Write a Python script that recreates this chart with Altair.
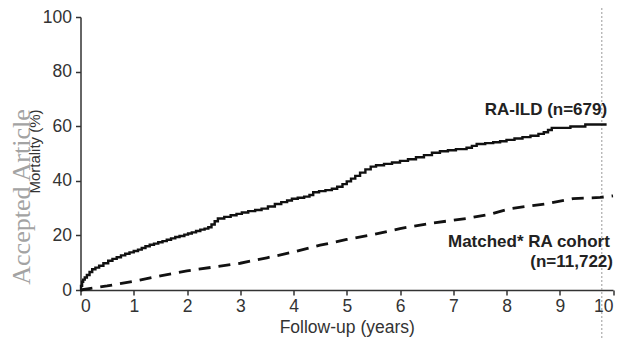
import altair as alt
import pandas as pd

# RA-ILD cumulative mortality (Kaplan-Meier style, step curve)
ild_years = [0, 0.01, 0.03, 0.05, 0.08, 0.12, 0.17, 0.22, 0.28, 0.35, 0.43, 0.52,
             0.60, 0.68, 0.76, 0.84, 0.92, 1.00, 1.08, 1.15, 1.22, 1.30, 1.38,
             1.46, 1.54, 1.62, 1.70, 1.78, 1.86, 1.95, 2.02, 2.09, 2.17, 2.25,
             2.33, 2.40, 2.46, 2.52, 2.58, 2.70, 2.82, 2.93, 3.03, 3.15, 3.28,
             3.40, 3.52, 3.65, 3.77, 3.88, 3.97, 4.08, 4.20, 4.30, 4.37, 4.48,
             4.60, 4.72, 4.82, 4.92, 5.00, 5.08, 5.16, 5.25, 5.35, 5.45, 5.55,
             5.70, 5.85, 6.00, 6.15, 6.30, 6.45, 6.60, 6.75, 6.90, 7.05, 7.25,
             7.35, 7.44, 7.60, 7.75, 7.88, 8.00, 8.15, 8.30, 8.45, 8.60, 8.70,
             8.78, 8.85, 9.20, 9.48, 9.88]
ild_mort = [0, 1.5, 3.0, 3.8, 4.6, 5.5, 6.6, 7.6, 8.2, 8.9, 9.8, 10.7,
            11.4, 12.0, 12.7, 13.3, 13.8, 14.3, 14.8, 15.4, 16.0, 16.6, 17.0,
            17.5, 17.9, 18.4, 18.9, 19.4, 19.8, 20.3, 20.7, 21.1, 21.6, 22.1,
            22.5, 23.0, 24.0, 25.2, 26.2, 26.8, 27.4, 27.9, 28.4, 28.9, 29.3,
            29.8, 30.6, 31.5, 32.2, 32.8, 33.4, 33.8, 34.2, 34.8, 35.8, 36.2,
            36.6, 37.1, 37.8, 38.8, 39.8, 40.8, 41.8, 43.0, 44.2, 45.2, 45.7,
            46.2, 46.7, 47.3, 47.9, 48.6, 49.4, 50.3, 50.8, 51.2, 51.6, 52.1,
            52.8, 53.5, 53.8, 54.1, 54.5, 55.0, 55.5, 56.0, 56.5, 57.2, 57.8,
            58.6, 59.4, 59.9, 60.6, 60.6]

# Matched RA cohort
ctrl_years = [0, 0.5, 1.05, 1.5, 2.0, 2.5, 3.0, 3.5, 4.0, 4.5, 5.0, 5.5, 6.0,
              6.6, 7.25, 7.7, 8.07, 8.75, 9.25, 9.76, 10.0]
ctrl_mort = [0, 1.5, 3.4, 5.2, 7.0, 8.4, 9.8, 11.8, 13.9, 16.4, 18.5, 20.3, 22.5,
             24.5, 26.2, 27.8, 29.8, 31.6, 33.5, 33.9, 34.5]

x_ticks = [0, 1, 2, 3, 4, 5, 6, 7, 8, 9, 10]
y_ticks = [0, 20, 40, 60, 80, 100]

label_text = ["RA-ILD (n=679)", "Matched* RA cohort", "(n=11,722)"]
label_x = [9.89, 9.94, 10.0]
label_y = [64.0, 15.8, 8.3]

cutoff_year = [9.79]
watermark = ["Accepted Article"]

FONT = "Liberation Sans"
W, H = 532.5, 273

df_ild = pd.DataFrame({"year": ild_years, "mort": ild_mort})
df_ctrl = pd.DataFrame({"year": ctrl_years, "mort": ctrl_mort})
df_lab = pd.DataFrame({"t": label_text, "year": label_x, "mort": label_y})
df_cut = pd.DataFrame({"year": cutoff_year})
df_wm = pd.DataFrame({"t": watermark})

xscale = alt.Scale(domain=[0, 10], nice=False, zero=False)
yscale = alt.Scale(domain=[0, 100], nice=False, zero=False)

x_enc = alt.X("year:Q", scale=xscale,
              axis=alt.Axis(values=x_ticks, title="Follow-up (years)", format="d",
                            labelPadding=2, titlePadding=4))
y_enc = alt.Y("mort:Q", scale=yscale,
              axis=alt.Axis(values=y_ticks, title="Mortality (%)", format="d",
                            labelPadding=4, titleX=-46, titleY=134,
                            titleBaseline="middle", titleAlign="center",
                            titleFontSize=15))

ild = alt.Chart(df_ild).mark_line(interpolate="step-after", color="#111",
                                  strokeWidth=2.4).encode(x=x_enc, y=y_enc)
ctrl = alt.Chart(df_ctrl).mark_line(color="#111", strokeWidth=2.8,
                                    strokeDash=[12, 8]).encode(
    x=alt.X("year:Q", scale=xscale), y=alt.Y("mort:Q", scale=yscale))

labels = alt.Chart(df_lab).mark_text(font=FONT, fontSize=17, fontWeight="bold",
                                     align="right", baseline="alphabetic",
                                     color="#222").encode(
    x=alt.X("year:Q", scale=xscale), y=alt.Y("mort:Q", scale=yscale), text="t:N")

cut = alt.Chart(df_cut).mark_rule(color="#9a9a9a", strokeWidth=1,
                                  strokeDash=[2, 2]).encode(
    x=alt.X("year:Q", scale=xscale), y=alt.value(-9), y2=alt.value(H + 52))

wm = alt.Chart(df_wm).mark_text(font="Liberation Serif", fontSize=26,
                                color="#a3a3a3", angle=270, align="center",
                                baseline="middle").encode(
    text="t:N", x=alt.value(-58.5), y=alt.value(180))

chart = alt.layer(wm, cut, ctrl, ild, labels).properties(
    width=W, height=H,
    autosize=alt.AutoSizeParams(type="none"),
    padding={"left": 72.5, "top": 9, "right": 6, "bottom": 50},
).configure_view(stroke=None).configure_axis(
    grid=False, labelFont=FONT, labelFontSize=17.5, labelColor="#333",
    titleFont=FONT, titleFontSize=17.5, titleFontWeight="normal", titleColor="#333",
    domainColor="#333", domainWidth=1.5, tickColor="#333", tickWidth=1.5, tickSize=5,
)

chart.save("out.html", embed_options={"renderer": "svg", "actions": False})
